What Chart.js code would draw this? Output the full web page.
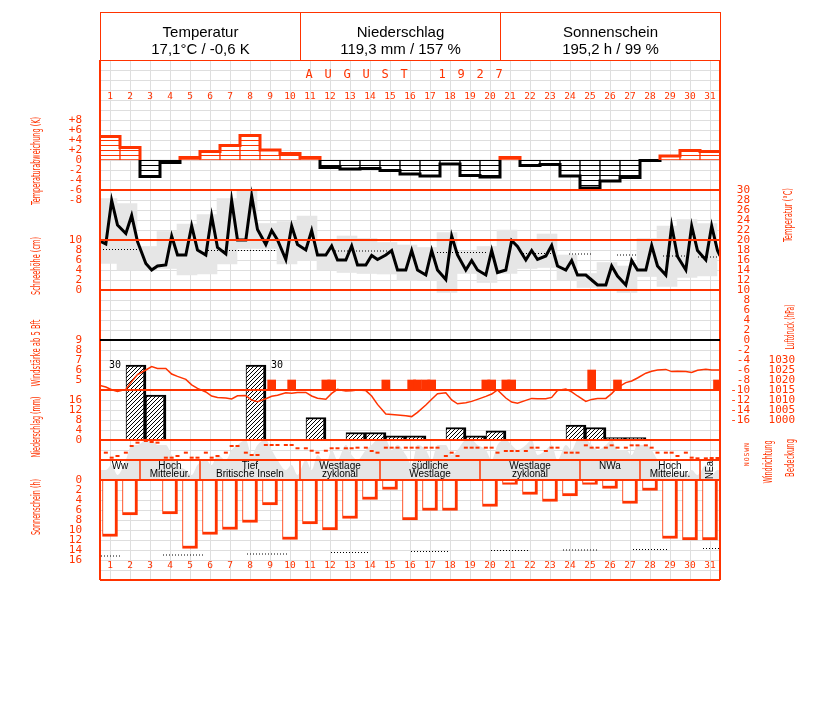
<!DOCTYPE html>
<html lang="de">
<head>
<meta charset="utf-8">
<title>Witterung August 1927</title>
<script src="https://cdn.jsdelivr.net/npm/chart.js@4.4.1/dist/chart.umd.min.js"></script>
<style>
  html, body { margin: 0; padding: 0; background: #fff; }
  #bild { position: relative; width: 827px; height: 702px; }
  #bild canvas { position: absolute; left: 0; top: 0; }
  .kopf { position: absolute; top: 12px; width: 201px; height: 49px; box-sizing: border-box;
          border: 1px solid #ff3300; text-align: center; padding-top: 10px;
          font: 15px/17px 'Liberation Sans', Arial, sans-serif; color: #000; }
</style>
</head>
<body>
<div id="bild">
  <canvas id="klima" width="827" height="702"></canvas>
  <div class="kopf" style="left:100px">Temperatur<br>17,1°C / -0,6 K</div>
  <div class="kopf" style="left:300px">Niederschlag<br>119,3 mm / 157 %</div>
  <div class="kopf" style="left:500px; width:221px">Sonnenschein<br>195,2 h / 99 %</div>
</div>
<script>
// Tage und Beobachtungstermine (7, 14, 21 Uhr)
const tage = Array.from({ length: 31 }, (_, i) => i + 1);
const termine = [7, 14, 21];
const monatTitel = 'AUGUST 1927';

// Abweichung der Tagesmitteltemperatur (K)
const abweichung = [4.7, 2.5, -3.3, -0.5, 0.5, 1.7, 2.9, 4.9, 2.0, 1.3,
  0.5, -1.5, -1.8, -1.7, -2.1, -2.8, -3.2, -0.8, -3.1, -3.4,
  0.5, -1.1, -0.9, -3.2, -5.6, -4.2, -3.5, -0.1, 0.8, 1.9, 1.7];

// Temperatur an den Terminen (°C)
const temp7 = [19.2, 21.3, 15.3, 15.0, 17.0, 17.0, 17.2, 20.0, 19.1, 16.1, 18.0, 17.0, 16.0, 15.0, 17.0, 14.0,
  13.0, 12.1, 14.0, 13.0, 14.0, 16.0, 16.8, 14.0, 13.0, 11.0, 11.0, 14.0, 13.0, 14.0, 16.0];
const temp14 = [27.9, 24.9, 14.0, 20.8, 22.8, 24.8, 27.9, 28.8, 21.9, 22.8, 21.9, 18.8, 18.8, 16.9, 17.9, 17.9,
  17.9, 20.8, 15.9, 17.9, 19.9, 17.9, 18.9, 15.9, 12.0, 14.8, 15.9, 18.9, 22.8, 22.8, 22.8];
const temp21 = [23.0, 19.7, 14.8, 17.0, 18.0, 18.5, 20.0, 22.1, 20.0, 19.1, 17.0, 16.0, 15.0, 16.1, 14.0, 14.0,
  14.0, 17.0, 14.0, 13.5, 18.7, 16.1, 14.8, 13.0, 11.0, 12.8, 14.0, 14.8, 16.7, 17.9, 17.9];
const tempVormonat = 19.8;
const tempFolgemonat = 16.8;

// Tagesminimum / -maximum (°C)
const tempMin = [15.3, 14.0, 14.0, 14.3, 13.0, 13.2, 15.2, 18.3, 18.3, 15.2, 15.9, 14.0, 13.5, 13.3, 13.2, 11.9,
  12.0, 9.5, 13.3, 11.5, 13.3, 14.3, 14.5, 12.0, 10.5, 10.0, 9.5, 12.7, 10.7, 12.5, 12.8];
const tempMax = [28.3, 27.3, 18.7, 21.7, 23.2, 25.1, 28.3, 29.9, 23.3, 23.7, 24.8, 19.7, 20.8, 20.3, 19.5, 19.0,
  18.5, 21.5, 17.7, 18.7, 22.0, 20.1, 21.2, 17.0, 13.3, 15.5, 14.8, 20.3, 22.8, 24.1, 23.3];

// Temperatur-Normalwerte (Abschnitte, Tage)
const normTVon = [0, 5.4, 11.75, 16.85, 21.15, 23.45, 25.85, 28.15, 29.9];
const normTBis = [1.85, 8.85, 14.35, 19.35, 22.65, 24.6, 26.9, 29.5, 31];
const normTWert = [18.1, 17.9, 17.8, 17.5, 17.3, 17.2, 17.0, 16.8, 16.6];

// Luftdruck an den Terminen (hPa)
const druck7 = [1016.5, 1015.3, 1025.0, 1025.8, 1020.3, 1014.0, 1011.0, 1012.2, 1010.6, 1013.6, 1013.8, 1010.4,
  1014.5, 1014.7, 1003.0, 1002.1, 1007.5, 1013.6, 1008.6, 1011.8, 1011.0, 1009.8, 1010.6, 1015.5, 1009.3,
  1010.8, 1018.7, 1023.4, 1025.3, 1024.2, 1025.4];
const druck14 = [1015.1, 1019.2, 1026.7, 1023.0, 1017.6, 1012.0, 1010.5, 1010.0, 1011.9, 1013.4, 1012.0, 1013.3,
  1014.6, 1012.0, 1002.8, 1001.7, 1010.4, 1010.0, 1009.3, 1013.0, 1009.0, 1010.8, 1011.3, 1014.1, 1010.3,
  1013.2, 1019.5, 1024.4, 1024.2, 1023.8, 1025.0];
const druck21 = [1014.3, 1022.7, 1025.8, 1021.8, 1015.8, 1011.3, 1012.1, 1009.2, 1012.4, 1013.8, 1010.9, 1015.3,
  1015.0, 1007.8, 1002.5, 1003.8, 1013.1, 1008.1, 1010.3, 1015.0, 1008.4, 1010.6, 1014.8, 1012.0, 1010.8,
  1016.2, 1021.0, 1025.0, 1024.4, 1024.9, 1025.0];
const druckVormonat = 1017.3;
const druckFolgemonat = 1025.0;

// Windstärke ab 5 Bft: Tag, Termin, Stärke
const windTag = [9, 10, 12, 12, 15, 16, 16, 17, 17, 20, 20, 21, 21, 25, 26, 31];
const windTermin = [14, 14, 7, 14, 7, 14, 21, 7, 14, 7, 14, 7, 14, 14, 21, 21];
const windBft = [5, 5, 5, 5, 5, 5, 5, 5, 5, 5, 5, 5, 5, 6, 5, 5];

// Windrichtung (Grad) an den Terminen
const richtung7 = [132, 132, 342, 42, 132, 132, 132, 132, 270, 270, 211, 167, 211, 222, 222, 222,
  222, 72, 222, 222, 162, 162, 162, 132, 264, 222, 222, 264, 132, 132, 30];
const richtung14 = [42, 252, 324, 42, 42, 42, 252, 90, 270, 270, 167, 211, 211, 162, 222, 222,
  222, 132, 222, 222, 162, 222, 222, 132, 222, 264, 264, 222, 132, 42, 36];
const richtung21 = [72, 312, 312, 72, 42, 72, 252, 90, 270, 211, 132, 211, 222, 132, 222, 222,
  222, 72, 222, 132, 162, 222, 222, 132, 222, 222, 264, 132, 72, 30, 36];

// Bedeckung (Achtel) an den Terminen
const wolken7 = [2, 4, 8, 7, 2, 4, 4, 8, 8, 2, 4, 3, 7, 6, 8, 5, 6, 7, 8, 6, 8, 7, 6, 7, 8, 7, 6, 7, 2, 1, 3];
const wolken14 = [3, 7, 8, 5, 1, 3, 6, 5, 6, 3, 2, 6, 5, 7, 6, 3, 4, 5, 8, 4, 7, 8, 7, 6, 7, 8, 5, 6, 1, 2, 1];
const wolken21 = [1, 7, 7, 3, 3, 5, 7, 7, 4, 1, 5, 4, 4, 8, 7, 7, 7, 6, 7, 7, 6, 5, 4, 8, 6, 6, 7, 4, 2, 1, 2];

// Niederschlag (mm) und Sonnenschein (h), Tageswerte
const niederschlag = [0, 30, 18, 0, 0, 0, 0, 30, 0.3, 0, 9, 0, 3, 3, 1.7, 1.7,
  0.2, 5, 1.7, 3.7, 0.2, 0, 0.2, 6, 5, 1, 1, 0, 0, 0, 0];
const sonne = [11.3, 7.0, 0, 6.8, 13.7, 10.9, 9.9, 8.5, 5.0, 11.9, 8.8, 10.0, 7.7, 3.9, 1.9, 8.0,
  6.1, 6.1, 0, 5.3, 0.9, 2.9, 4.3, 3.2, 0.9, 1.7, 4.7, 2.1, 11.7, 12.0, 12.0];
const normSVon = [0.05, 3.15, 7.35, 11.55, 15.55, 19.55, 23.15, 26.65, 30.15];
const normSBis = [1.0, 5.2, 9.4, 13.5, 17.5, 21.4, 24.9, 28.4, 31];
const normSWert = [15.2, 15.0, 14.8, 14.5, 14.3, 14.1, 14.0, 13.9, 13.7];

// Großwetterlagen
const wlText = [['Ww'], ['Hoch', 'Mitteleur.'], ['Tief', 'Britische Inseln'], ['Westlage', 'zyklonal'],
  ['südliche', 'Westlage'], ['Westlage', 'zyklonal'], ['NWa'], ['Hoch', 'Mitteleur.'], ['NEa']];
const wlVon = [1, 3, 6, 11, 15, 20, 25, 28, 31];
const wlBis = [2, 5, 10, 14, 19, 24, 27, 30, 31];

// Skalenbeschriftungen
const abwTicks = [8, 6, 4, 2, 0, -2, -4, -6, -8];
const schneeTicks = [10, 8, 6, 4, 2, 0];
const windTicks = [9, 8, 7, 6, 5];
const niedTicks = [16, 12, 8, 4, 0];
const sonneTicks = [0, 2, 4, 6, 8, 10, 12, 14, 16];
const tempTicks = [30, 28, 26, 24, 22, 20, 18, 16, 14, 12, 10, 8, 6, 4, 2, 0, -2, -4, -6, -8, -10, -12, -14, -16];
const druckTicks = [1030, 1025, 1020, 1015, 1010, 1005, 1000];
const richtungText = ['N', 'W', 'S', 'O', 'N'];

const RED = '#ff3300';
const GRID = '#dedede';
const GRAU = '#e6e6e6';
const TOP = 60, BOTTOM = 580;
const MONO = "'DejaVu Sans Mono', monospace";

const obsX = tage.flatMap(d => termine.map(h => d - 1 + h / 24));
const jeTermin = (a7, a14, a21) => tage.flatMap((d, i) => [a7[i], a14[i], a21[i]]);
const alsPunkte = werte => werte.map((y, i) => ({ x: obsX[i], y }));
const tempWerte = jeTermin(temp7, temp14, temp21);
const druckWerte = jeTermin(druck7, druck14, druck21);
const richtungWerte = jeTermin(richtung7, richtung14, richtung21);
const wolkenWerte = jeTermin(wolken7, wolken14, wolken21);

function strecken(von, bis, wert) {
  const p = [];
  von.forEach((v, i) => { p.push({ x: v, y: wert[i] }, { x: bis[i], y: wert[i] }, { x: bis[i], y: null }); });
  return p;
}

function muster(farbe, art) {
  const c = document.createElement('canvas');
  c.width = 4; c.height = art === 'quer' ? 5 : 4;
  const g = c.getContext('2d');
  g.fillStyle = '#fff'; g.fillRect(0, 0, c.width, c.height);
  g.fillStyle = farbe;
  if (art === 'quer') g.fillRect(0, 0, 4, 1);
  else for (let i = 0; i < 4; i++) g.fillRect(i, 3 - i, 1, 1);
  return g.createPattern(c, 'repeat');
}
const querRot = muster(RED, 'quer');
const querSchwarz = muster('#000', 'quer');
const schraeg = muster('#000', 'schraeg');

// Breite des breitesten Labels (für rechtsbündige Beschriftung links)
const messen = document.createElement('canvas').getContext('2d');
function breiteste(texte, groesse) {
  messen.font = groesse + 'px ' + MONO;
  return Math.max(...texte.map(t => messen.measureText(t).width));
}

// Treppenlinie der Abweichung, getrennt nach Vorzeichen
function stufenLinie(klemme, farbe) {
  const pts = [];
  abweichung.forEach((v, i) => { const c = klemme(v); pts.push({ x: i, y: c }, { x: i + 1, y: c }); });
  return {
    type: 'line', yAxisID: 'abw', order: 10, data: pts, borderColor: farbe, borderWidth: 3,
    pointRadius: 0, borderJoinStyle: 'miter', borderCapStyle: 'butt',
    segment: { borderColor: s => (s.p0.parsed.y === 0 && s.p1.parsed.y === 0) ? 'rgba(0,0,0,0)' : farbe }
  };
}

// Achse, deren Wert 'wert' bei Pixel 'pixel' liegt
function wertAchse(wert, pixel, pxProEinheit, mehr) {
  const unten = (BOTTOM - pixel) / pxProEinheit, oben = (pixel - TOP) / pxProEinheit;
  const rev = mehr && mehr.reverse;
  return Object.assign({
    type: 'linear', axis: 'y', position: 'left', display: false, bounds: 'data',
    min: rev ? wert - oben : wert - unten,
    max: rev ? wert + unten : wert + oben
  }, mehr);
}

function beschriftet(werte, format, seite, breite) {
  const texte = werte.map(format);
  const links = seite === 'left';
  return {
    display: true, position: seite,
    grid: { display: false }, border: { display: false },
    afterFit: s => { s.width = breite; },
    afterBuildTicks: s => { s.ticks = werte.map(v => ({ value: v })); },
    ticks: {
      autoSkip: false, color: RED, font: { family: MONO, size: 11 },
      mirror: links, crossAlign: 'far',
      padding: links ? -18 - breiteste(texte, 11) : 0,
      callback: (v, i) => texte[i]
    }
  };
}

function tagAchse(seite, abstand) {
  return {
    type: 'linear', axis: 'x', position: seite, min: 0, max: 31, offset: false, bounds: 'data',
    grid: { display: false }, border: { display: false },
    afterFit: s => { s.height = 0; },
    afterBuildTicks: s => { s.ticks = tage.map(d => ({ value: d - 0.5 })); },
    ticks: { autoSkip: false, maxRotation: 0, mirror: true, color: RED, font: { family: MONO, size: 9.5 },
      padding: abstand, callback: (v, i) => String(tage[i]) }
  };
}

function rasterY(farbe, werte, z, breite) {
  return {
    type: 'linear', axis: 'y', position: 'left', min: 0, max: 52, reverse: true, bounds: 'data',
    afterBuildTicks: s => { s.ticks = werte.map(v => ({ value: v })); },
    afterFit: s => { s.width = 0; },
    ticks: { display: false }, border: { display: false },
    grid: { color: farbe, drawTicks: false, z: z, lineWidth: breite }
  };
}

const beschriftung = {
  id: 'beschriftung',
  afterDraw(chart) {
    const { ctx, scales } = chart;
    const sx = scales.x, raster = scales.raster;
    ctx.save();
    ctx.textAlign = 'center';
    ctx.textBaseline = 'middle';

    // Monatstitel
    ctx.fillStyle = RED;
    ctx.font = '12px ' + MONO;
    [...monatTitel].forEach((ch, i) => ctx.fillText(ch, 309 + i * 19, raster.getPixelForValue(1.5)));

    // Achsentitel (senkrecht)
    const titel = [
      ['Temperaturabweichung (K)', 37, 161, 88], ['Schneehöhe (cm)', 37, 266, 58],
      ['Windstärke ab 5 Bft', 37, 353, 67], ['Niederschlag (mm)', 37, 427, 61],
      ['Sonnenschein (h)', 37, 507, 56], ['Temperatur (°C)', 789, 215, 54],
      ['Luftdruck (hPa)', 791, 327, 45], ['Windrichtung', 769, 462, 43], ['Bedeckung', 791, 458, 38]
    ];
    ctx.font = "12.5px 'Liberation Sans Narrow', 'DejaVu Sans Condensed', 'Liberation Sans', sans-serif";
    titel.forEach(([t, x, y, len]) => {
      ctx.save(); ctx.translate(x, y); ctx.rotate(-Math.PI / 2);
      ctx.fillText(t, 0, 0, len); ctx.restore();
    });

    // Windrichtungs-Skala
    ctx.font = '6.5px ' + MONO;
    richtungText.forEach((t, i) => {
      ctx.save(); ctx.translate(747, 445 + i * 4.8); ctx.rotate(-Math.PI / 2);
      ctx.fillText(t, 0, 0); ctx.restore();
    });

    // Großwetterlagen
    const y0 = raster.getPixelForValue(40), y1 = raster.getPixelForValue(42);
    ctx.strokeStyle = RED; ctx.lineWidth = 1.5;
    ctx.fillStyle = '#000';
    ctx.font = "10px 'Liberation Sans', Arial, sans-serif";
    wlVon.forEach((von, i) => {
      const xa = sx.getPixelForValue(von - 1), xb = sx.getPixelForValue(wlBis[i]);
      if (i > 0) { ctx.beginPath(); ctx.moveTo(xa, y0); ctx.lineTo(xa, y1); ctx.stroke(); }
      const xm = (xa + xb) / 2;
      if (xb - xa < 30) {
        ctx.save(); ctx.translate(xm, (y0 + y1) / 2); ctx.rotate(-Math.PI / 2);
        ctx.fillText(wlText[i].join(' '), 0, 0, 18); ctx.restore();
      } else {
        wlText[i].forEach((t, k) => ctx.fillText(t, xm, y0 + 6 + k * 8.5, xb - xa - 4));
      }
    });

    // Niederschlag über Skalenende
    const meta = chart.getDatasetMeta(chart.data.datasets.findIndex(d => d.label === 'Niederschlag'));
    ctx.font = '10px ' + MONO;
    niederschlag.forEach((v, i) => {
      if (v < 25) return;
      const bar = meta.data[i];
      const links = (niederschlag[i + 1] || 0) > 5;
      ctx.textAlign = links ? 'right' : 'left';
      ctx.fillText(String(v), links ? bar.x - bar.width / 2 - 5 : bar.x + bar.width / 2 + 5, bar.y);
    });
    ctx.restore();
  }
};

const datasets = [
  { type: 'line', label: 'Bedeckung', yAxisID: 'bedeckung', order: 100,
    data: [{ x: 0, y: wolkenWerte[0] }, ...alsPunkte(wolkenWerte), { x: 31, y: wolkenWerte[wolkenWerte.length - 1] }],
    fill: { value: 0 }, backgroundColor: GRAU, borderWidth: 0, pointRadius: 0, cubicInterpolationMode: 'monotone', tension: 0.4 },
  { type: 'bar', label: 'Tagesspanne', yAxisID: 'temp', order: 90,
    data: tage.map((d, i) => ({ x: d - 0.65, y: [tempMin[i], tempMax[i]] })),
    backgroundColor: GRAU, barThickness: 20, grouped: false },
  { type: 'bar', label: 'Abweichung', yAxisID: 'abw', order: 80,
    data: tage.map((d, i) => ({ x: d - 0.5, y: [0, abweichung[i]] })),
    backgroundColor: c => abweichung[c.dataIndex] >= 0 ? querRot : querSchwarz,
    borderColor: c => abweichung[c.dataIndex] >= 0 ? RED : '#000',
    borderWidth: 1, borderSkipped: false, barThickness: 20, grouped: false },
  stufenLinie(v => Math.max(v, 0), RED),
  stufenLinie(v => Math.min(v, 0), '#000'),
  { type: 'line', label: 'Normaltemperatur', yAxisID: 'temp', order: 30, data: strecken(normTVon, normTBis, normTWert),
    borderColor: '#000', borderWidth: 1, borderDash: [1, 2], pointRadius: 0 },
  { type: 'line', label: 'Temperatur', yAxisID: 'temp', order: 15,
    data: [{ x: 0, y: tempVormonat }, ...alsPunkte(tempWerte), { x: 31, y: tempFolgemonat }],
    borderColor: '#000', borderWidth: 3, pointRadius: 0, borderJoinStyle: 'miter' },
  { type: 'bar', label: 'Wind', yAxisID: 'wind', order: 45,
    data: windTag.map((d, i) => ({ x: d - 1 + windTermin[i] / 24, y: windBft[i] })),
    base: 4, backgroundColor: RED, barThickness: 8, grouped: false },
  { type: 'line', label: 'Luftdruck', yAxisID: 'druck', order: 20,
    data: [{ x: 0, y: druckVormonat }, ...alsPunkte(druckWerte), { x: 31, y: druckFolgemonat }],
    borderColor: RED, borderWidth: 1.5, pointRadius: 0 },
  { type: 'bar', label: 'Niederschlag', yAxisID: 'nied', order: 50,
    data: tage.map((d, i) => ({ x: d - 0.2, y: niederschlag[i] })),
    backgroundColor: schraeg, borderColor: '#000', borderWidth: { top: 2, right: 3, bottom: 0, left: 1 },
    borderSkipped: false, barThickness: 20, grouped: false },
  { type: 'bar', label: 'Sonnenschein', yAxisID: 'sonne', order: 50,
    data: tage.map((d, i) => ({ x: d - 0.5, y: sonne[i] })),
    backgroundColor: '#fff', borderColor: RED, borderWidth: { top: 0, right: 3, bottom: 3, left: 1 },
    borderSkipped: false, barThickness: 15, grouped: false },
  { type: 'line', label: 'Normal Sonnenschein', yAxisID: 'sonne', order: 30, data: strecken(normSVon, normSBis, normSWert),
    borderColor: '#000', borderWidth: 1, borderDash: [1, 2], pointRadius: 0 },
  { type: 'line', label: 'Windrichtung', yAxisID: 'richtung', order: 25, data: alsPunkte(richtungWerte),
    showLine: false, pointStyle: 'line', pointRadius: 2, pointBorderWidth: 2,
    pointBorderColor: RED, pointBackgroundColor: RED }
];

new Chart(document.getElementById('klima'), {
  type: 'line',
  data: { datasets },
  plugins: [beschriftung],
  options: {
    responsive: false,
    devicePixelRatio: 1,
    animation: false,
    events: [],
    layout: { padding: { left: 100, right: 32, top: TOP, bottom: 702 - BOTTOM } },
    plugins: { legend: { display: false }, tooltip: { enabled: false } },
    scales: {
      x: {
        type: 'linear', axis: 'x', position: 'bottom', min: 0, max: 31, offset: false, bounds: 'data',
        afterBuildTicks: s => { s.ticks = [0, ...tage].map(v => ({ value: v })); },
        afterFit: s => { s.height = 0; },
        ticks: { display: false }, border: { display: false },
        grid: { color: GRID, drawTicks: false }
      },
      tagOben: tagAchse('top', 31),
      tagUnten: tagAchse('bottom', 9),
      rahmen: {
        type: 'linear', axis: 'x', position: 'bottom', min: 0, max: 31, offset: false, bounds: 'data',
        afterBuildTicks: s => { s.ticks = [{ value: 0 }, { value: 31 }]; },
        afterFit: s => { s.height = 0; },
        ticks: { display: false }, border: { display: false },
        grid: { color: RED, drawTicks: false, z: 1, lineWidth: 2 }
      },
      raster: rasterY(c => c.tick.value === 41 ? 'rgba(0,0,0,0)' : GRID,
        Array.from({ length: 53 }, (_, i) => i), 0, 1),
      linien: rasterY(c => c.tick.value === 28 ? '#000' : RED, [13, 18, 23, 28, 33, 38, 40, 42, 52], 1, 2),
      abw: wertAchse(0, 160, 5, beschriftet(abwTicks, v => v > 0 ? '+' + v : String(v), 'left', 0)),
      schnee: wertAchse(0, 290, 5, beschriftet(schneeTicks, String, 'left', 0)),
      wind: wertAchse(5, 380, 10, beschriftet(windTicks, String, 'left', 0)),
      nied: wertAchse(0, 440, 2.5, beschriftet(niedTicks, String, 'left', 0)),
      sonne: wertAchse(0, 480, 5, Object.assign(beschriftet(sonneTicks, String, 'left', 0), { reverse: true })),
      temp: wertAchse(0, 340, 5, Object.assign(beschriftet(tempTicks, String, 'right', 30), { weight: 0 })),
      druck: wertAchse(1000, 420, 2, Object.assign(beschriftet(druckTicks, String, 'right', 45), { weight: 1 })),
      richtung: wertAchse(0, 460, 1 / 18),
      bedeckung: wertAchse(0, 480, 5)
    }
  }
});
</script>
</body>
</html>
